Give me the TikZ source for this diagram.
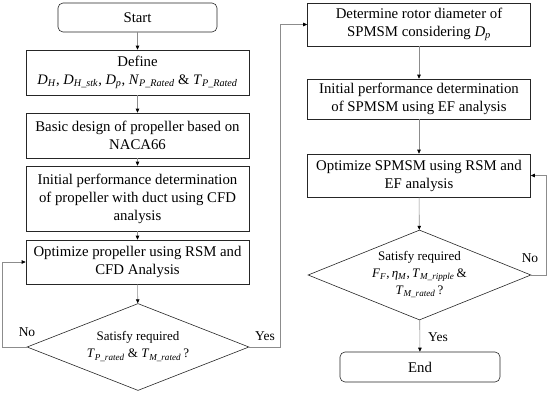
\documentclass[tikz,border=0pt]{standalone}
\usepackage{fontspec}
\setmainfont{Liberation Serif}
\usetikzlibrary{shapes.geometric,arrows.meta}
\newcommand{\symb}[2]{\textit{#1}\textsubscript{\textit{#2}}}
% text of a diamond that does not change its size
\newcommand{\dtext}[1]{\makebox[0pt]{\raisebox{-2pt}[0pt][0pt]{%
  \begin{tabular}{@{}c@{}}#1\end{tabular}}}}

\tikzset{
  procbox/.style={draw=black!85, line width=0.6pt, align=center,
    inner sep=1pt, minimum width=223pt,
    font=\fontsize{14.8}{18}\selectfont},
  termbox/.style={procbox, rounded corners=5pt, minimum width=159pt},
  decbox/.style={diamond, draw=black!85, line width=0.6pt,
    inner sep=0pt, font=\fontsize{13}{17}\selectfont},
  flow/.style={draw=black!45, line width=0.6pt,
    -{Triangle[length=4pt,width=3.5pt,black]}},
  lbl/.style={font=\fontsize{13.5}{16}\selectfont, inner sep=0pt},
}

\begin{document}
\begin{tikzpicture}[x=1pt, y=-1pt]
  \useasboundingbox (0,0) rectangle (550,394);
  % propeller side
  \node[termbox, minimum height=29pt] (start) at (137.5,17.5) {Start};
  \node[procbox, minimum height=45pt] (define) at (137.5,72.5)
    {Define\\ {\fontsize{14.5}{17}\selectfont\symb{D}{H}, \symb{D}{H\_stk},
     \symb{D}{p}, \symb{N}{P\_Rated} \& \symb{T}{P\_Rated}}};
  \node[procbox, minimum height=45pt] (basic) at (137.5,135.5)
    {Basic design of propeller based on\\ NACA66};
  \node[procbox, minimum height=65pt] (cfd) at (137.5,198.5)
    {Initial performance determination\\ of propeller with duct using CFD\\ analysis};
  \node[procbox, minimum height=44pt] (optprop) at (137.5,262)
    {Optimize propeller using RSM and\\ CFD Analysis};
  \node[decbox, minimum width=222pt, minimum height=87pt] (satprop) at (138,347)
    {\dtext{Satisfy required\\ \symb{T}{P\_rated} \& \symb{T}{M\_rated}\,?}};
  % motor side
  \node[procbox, minimum height=43pt] (rotor) at (419,24.5)
    {Determine rotor diameter of\\ SPMSM considering \symb{D}{p}};
  \node[procbox, minimum height=40pt] (initmot) at (419,99)
    {Initial performance determination\\ of SPMSM using EF analysis};
  \node[procbox, minimum height=43pt] (optmot) at (419,175.5)
    {Optimize SPMSM using RSM and\\ EF analysis};
  \node[decbox, minimum width=223pt, minimum height=90pt] (satmot) at (419.5,275)
    {\dtext{Satisfy required\\ \symb{F}{F},\,\symb{η}{M},\,\symb{T}{M\_ripple}\,\&\\
     \symb{T}{M\_rated}\,?}};
  \node[termbox, minimum height=30pt, minimum width=160pt] (stop) at (420,367) {End};

  \draw[flow] (start) -- (define);
  \draw[flow] (define) -- (basic);
  \draw[flow] (basic) -- (cfd);
  \draw[flow] (cfd) -- (optprop);
  \draw[flow] (optprop) -- (satprop);
  \draw[flow] (satprop.west) -- ++(-24,0) |- (optprop.west);
  \draw[flow] (satprop.east) -- ++(31,0) |- (rotor.west);
  \draw[flow] (rotor) -- (initmot);
  \draw[flow] (initmot) -- (optmot);
  \draw[flow] (optmot) -- (satmot);
  \draw[flow] (satmot.east) -- ++(15,0) |- (optmot.east);
  \draw[flow] (satmot) -- (stop);

  \node[lbl] (noprop) at (27,332) {No};
  \node[lbl] (yesprop) at (265,336) {Yes};
  \node[lbl] (nomot) at (530,258) {No};
  \node[lbl] (yesmot) at (438,337) {Yes};
\end{tikzpicture}
\end{document}
